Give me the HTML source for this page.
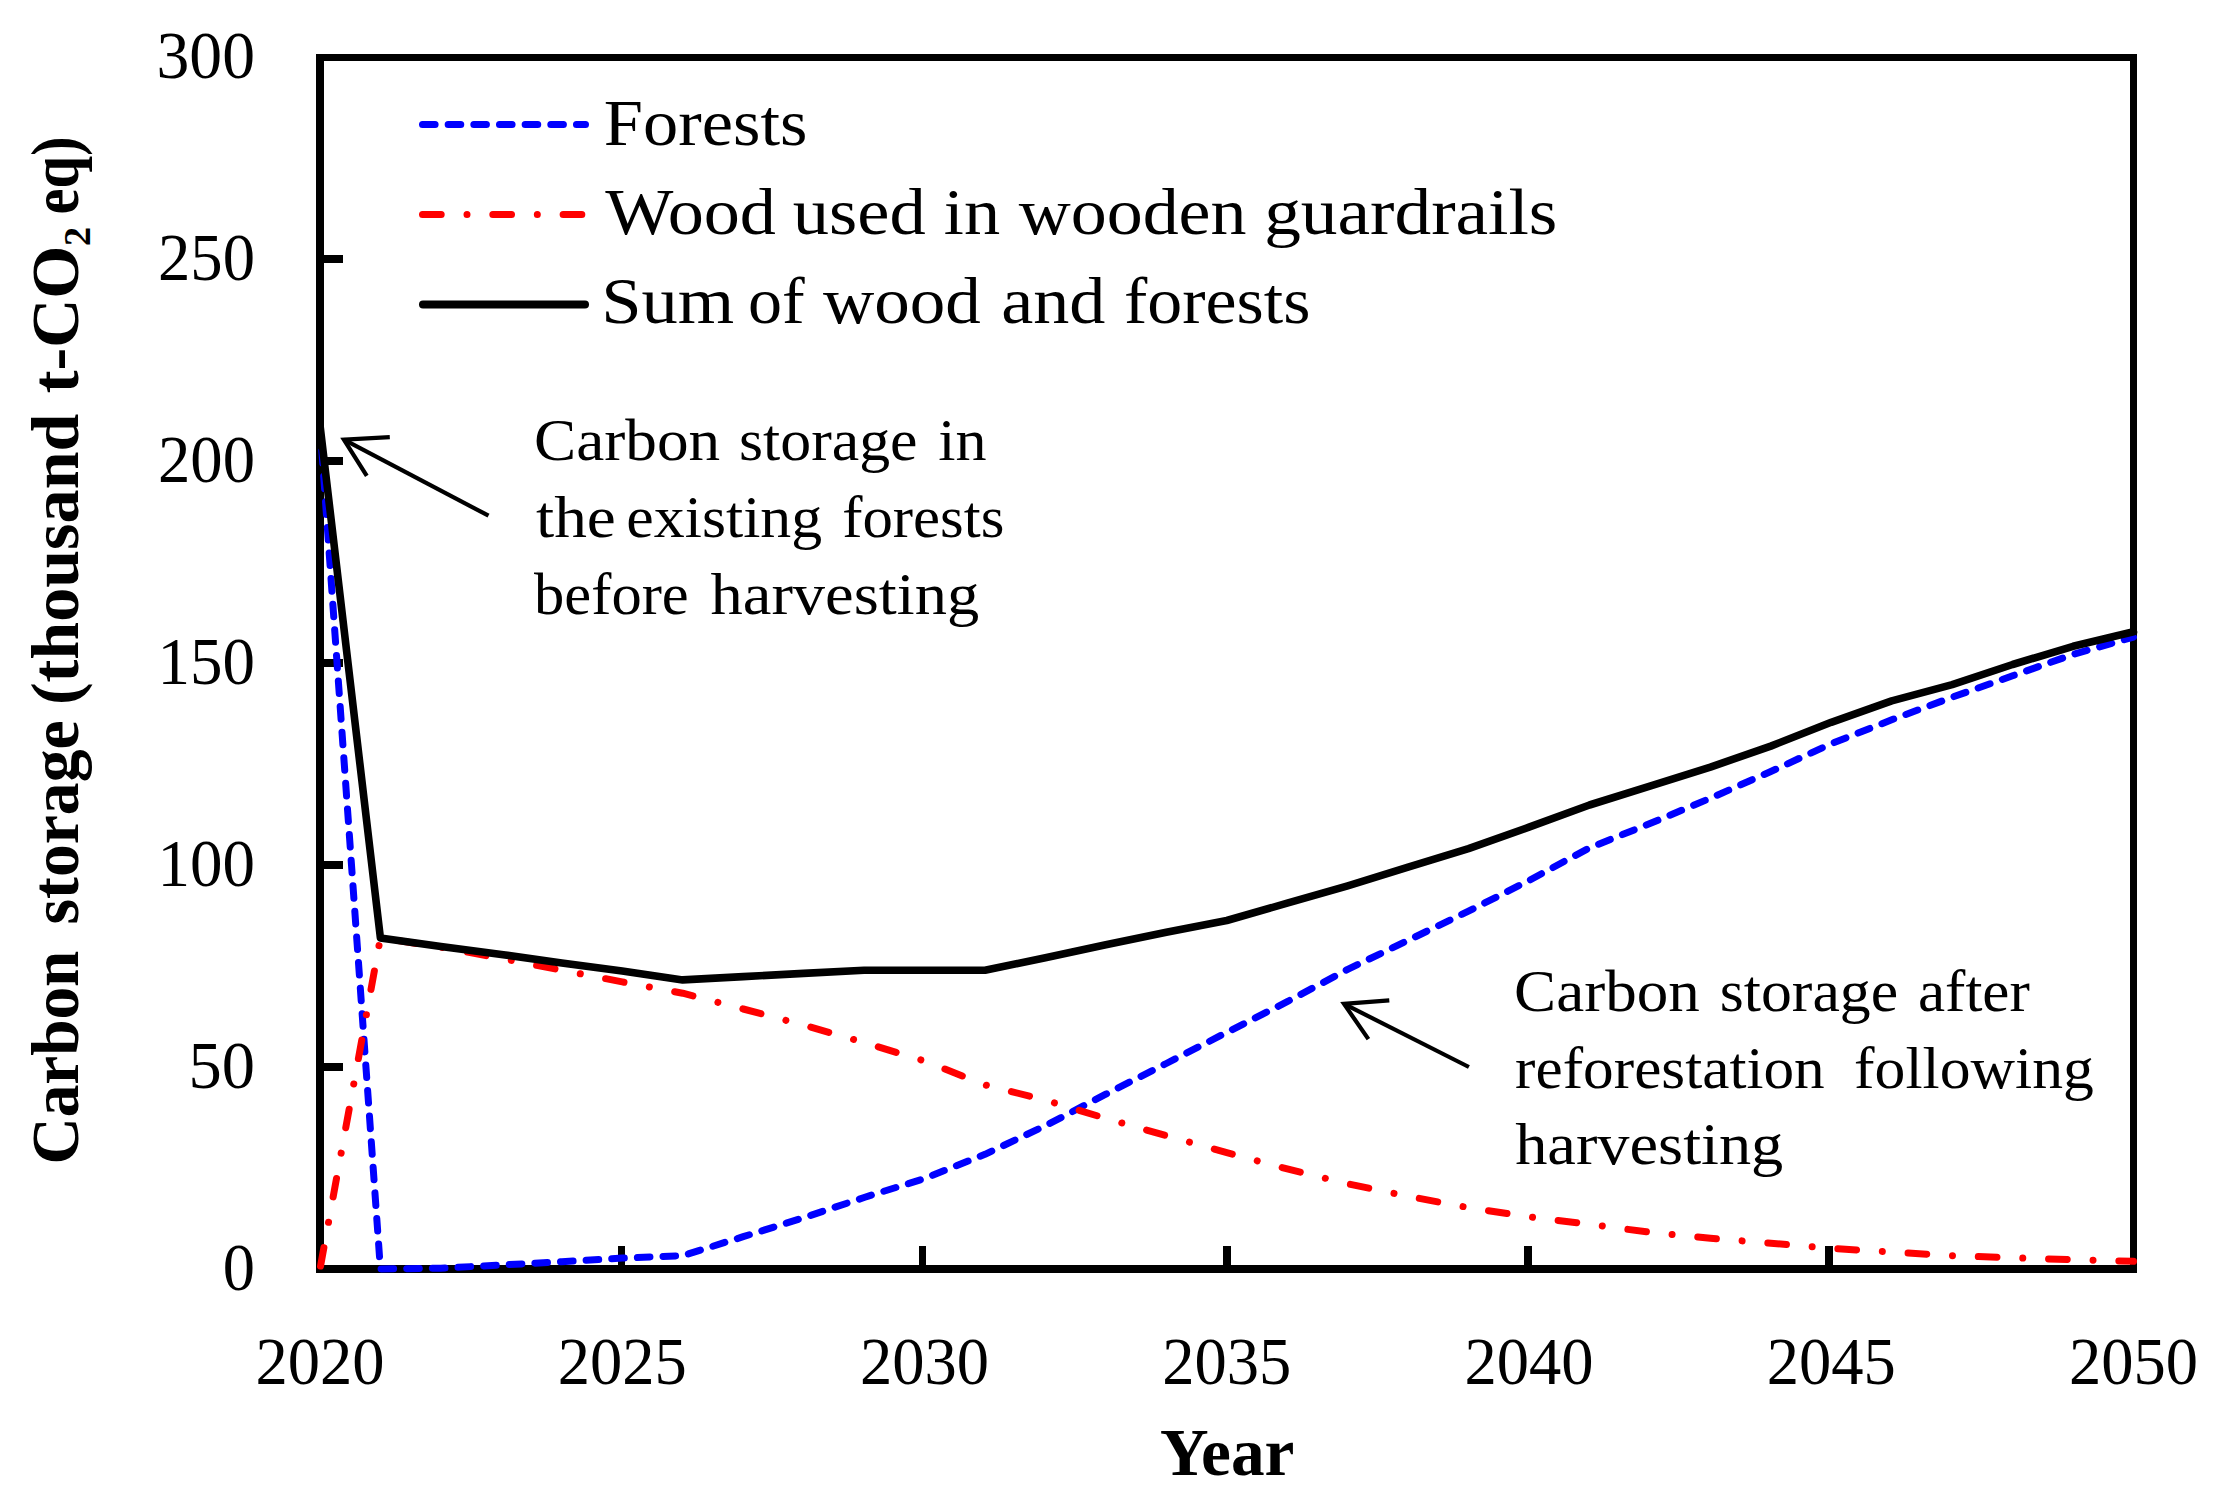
<!DOCTYPE html>
<html lang="en"><head><meta charset="utf-8"><title>Carbon storage</title>
<style>html,body{margin:0;padding:0;background:#fff}body{width:2219px;height:1504px;overflow:hidden}svg{display:block}text{font-family:"Liberation Serif",serif;fill:#000}</style>
</head><body>
<svg width="2219" height="1504" viewBox="0 0 2219 1504">
<rect width="2219" height="1504" fill="#fff"/>
<g fill="#000" shape-rendering="crispEdges">
<rect x="316" y="54" width="8" height="1219"/>
<rect x="316" y="54" width="1821" height="7"/>
<rect x="2130" y="54" width="7" height="1219"/>
<rect x="316" y="1265" width="1821" height="8"/>
<rect x="320" y="1063" width="23" height="8"/>
<rect x="320" y="861" width="23" height="8"/>
<rect x="320" y="659" width="23" height="8"/>
<rect x="320" y="457" width="23" height="8"/>
<rect x="320" y="255" width="23" height="8"/>
<rect x="618" y="1246" width="7" height="22"/>
<rect x="919" y="1246" width="7" height="22"/>
<rect x="1223" y="1246" width="8" height="22"/>
<rect x="1524" y="1246" width="8" height="22"/>
<rect x="1825" y="1246" width="8" height="22"/>
</g>
<g fill="none" stroke-linejoin="round" stroke-linecap="round">
<polyline points="321.1,440.0 380.4,1269.0 440.9,1268.2 501.4,1265.0 561.8,1261.7 622.2,1258.1 682.7,1255.7 743.2,1236.7 803.6,1217.7 864.1,1197.5 924.5,1178.5 985.0,1154.3 1045.4,1125.7 1105.8,1094.2 1166.3,1063.5 1226.8,1032.4 1287.2,1001.7 1347.7,969.4 1408.1,940.3 1468.5,911.2 1529.0,880.5 1589.5,847.8 1649.9,823.6 1710.4,798.2 1770.8,771.5 1831.2,743.7 1891.7,719.8 1952.2,697.2 2012.6,675.8 2073.1,654.4 2133.5,637.1" stroke="#0000ff" stroke-width="7" stroke-dasharray="12.6 13.06" stroke-dashoffset="15"/>
<polyline points="320.0,1269.0 380.4,937.9 440.9,947.2 501.4,958.5 561.8,970.2 622.2,981.9 682.7,993.2 743.2,1009.0 803.6,1025.1 864.1,1042.5 924.5,1061.0 985.0,1084.9 1045.4,1100.2 1105.8,1118.4 1166.3,1135.7 1226.8,1152.7 1287.2,1168.9 1347.7,1183.8 1408.1,1196.3 1468.5,1207.6 1529.0,1216.9 1589.5,1224.2 1649.9,1232.3 1710.4,1238.3 1770.8,1243.2 1831.2,1248.4 1891.7,1252.0 1952.2,1255.7 2012.6,1257.7 2073.1,1259.7 2133.5,1261.3" stroke="#ff0000" stroke-width="7" stroke-dasharray="18.7 25.8 0.01 25.8" stroke-dashoffset="-3"/>
<polyline points="320.0,425.1 380.4,937.9 440.9,946.4 501.4,954.4 561.8,962.9 622.2,971.0 682.7,979.9 743.2,976.6 803.6,973.4 864.1,970.2 924.5,970.2 985.0,970.2 1045.4,957.7 1105.8,944.7 1166.3,932.2 1226.8,920.5 1287.2,903.2 1347.7,885.8 1408.1,867.2 1468.5,848.6 1529.0,827.2 1589.5,805.0 1649.9,786.1 1710.4,767.1 1770.8,746.1 1831.2,722.3 1891.7,700.9 1952.2,684.7 2012.6,664.5 2073.1,646.3 2133.5,631.8" stroke="#000" stroke-width="7.6"/>
<line x1="422.5" y1="124.5" x2="585.5" y2="124.5" stroke="#0000ff" stroke-width="7" stroke-dasharray="12.6 13.06"/>
<line x1="422.5" y1="214.5" x2="585.5" y2="214.5" stroke="#ff0000" stroke-width="7" stroke-dasharray="18.7 25.8 0.01 25.8"/>
<line x1="423" y1="304.5" x2="585" y2="304.5" stroke="#000" stroke-width="8"/>
</g>
<g fill="none" stroke="#000" stroke-width="4.2" stroke-linecap="butt" stroke-linejoin="miter" stroke-miterlimit="10"><line x1="343.9" y1="439.7" x2="488.5" y2="515.7"/><polyline points="389.8,437.2 343.9,439.7 366.8,475.8"/></g>
<g fill="none" stroke="#000" stroke-width="4.2" stroke-linecap="butt" stroke-linejoin="miter" stroke-miterlimit="10"><line x1="1344.0" y1="1003.9" x2="1468.9" y2="1067.0"/><polyline points="1389.3,1000.3 1344.0,1003.9 1368.4,1039.1"/></g>
<text y="145.2" font-size="66" font-weight="normal" xml:space="preserve"><tspan x="603.80" textLength="203.60" lengthAdjust="spacingAndGlyphs">Forests</tspan></text>
<text y="234.3" font-size="66" font-weight="normal" xml:space="preserve"><tspan x="605.30" textLength="170.60" lengthAdjust="spacingAndGlyphs">Wood</tspan> <tspan x="792.80" textLength="132.90" lengthAdjust="spacingAndGlyphs">used</tspan> <tspan x="943.77" textLength="56.33" lengthAdjust="spacingAndGlyphs">in</tspan> <tspan x="1018.80" textLength="227.70" lengthAdjust="spacingAndGlyphs">wooden</tspan> <tspan x="1264.21" textLength="293.18" lengthAdjust="spacingAndGlyphs">guardrails</tspan></text>
<text y="323.0" font-size="66" font-weight="normal" xml:space="preserve"><tspan x="601.17" textLength="133.02" lengthAdjust="spacingAndGlyphs">Sum</tspan> <tspan x="747.97" textLength="56.70" lengthAdjust="spacingAndGlyphs">of</tspan> <tspan x="822.90" textLength="157.90" lengthAdjust="spacingAndGlyphs">wood</tspan> <tspan x="1001.15" textLength="104.15" lengthAdjust="spacingAndGlyphs">and</tspan> <tspan x="1124.01" textLength="186.37" lengthAdjust="spacingAndGlyphs">forests</tspan></text>
<text y="460.1" font-size="59.5" font-weight="normal" xml:space="preserve"><tspan x="534.02" textLength="186.18" lengthAdjust="spacingAndGlyphs">Carbon</tspan> <tspan x="738.97" textLength="178.59" lengthAdjust="spacingAndGlyphs">storage</tspan> <tspan x="938.33" textLength="48.37" lengthAdjust="spacingAndGlyphs">in</tspan></text>
<text y="537.2" font-size="59.5" font-weight="normal" xml:space="preserve"><tspan x="536.00" textLength="79.84" lengthAdjust="spacingAndGlyphs">the</tspan> <tspan x="626.37" textLength="195.80" lengthAdjust="spacingAndGlyphs">existing</tspan> <tspan x="842.15" textLength="162.26" lengthAdjust="spacingAndGlyphs">forests</tspan></text>
<text y="613.9" font-size="59.5" font-weight="normal" xml:space="preserve"><tspan x="534.10" textLength="154.63" lengthAdjust="spacingAndGlyphs">before</tspan> <tspan x="710.50" textLength="268.71" lengthAdjust="spacingAndGlyphs">harvesting</tspan></text>
<text y="1010.7" font-size="59.5" font-weight="normal" xml:space="preserve"><tspan x="1514.13" textLength="185.67" lengthAdjust="spacingAndGlyphs">Carbon</tspan> <tspan x="1719.77" textLength="178.39" lengthAdjust="spacingAndGlyphs">storage</tspan> <tspan x="1917.99" textLength="111.81" lengthAdjust="spacingAndGlyphs">after</tspan></text>
<text y="1087.7" font-size="59.5" font-weight="normal" xml:space="preserve"><tspan x="1515.14" textLength="309.56" lengthAdjust="spacingAndGlyphs">reforestation</tspan> <tspan x="1854.04" textLength="239.83" lengthAdjust="spacingAndGlyphs">following</tspan></text>
<text y="1164.4" font-size="59.5" font-weight="normal" xml:space="preserve"><tspan x="1515.20" textLength="268.11" lengthAdjust="spacingAndGlyphs">harvesting</tspan></text>
<text y="1384.3" font-size="67.5" font-weight="normal" xml:space="preserve"><tspan x="255.48" textLength="129.03" lengthAdjust="spacingAndGlyphs">2020</tspan></text>
<text y="1384.3" font-size="67.5" font-weight="normal" xml:space="preserve"><tspan x="557.73" textLength="129.03" lengthAdjust="spacingAndGlyphs">2025</tspan></text>
<text y="1384.3" font-size="67.5" font-weight="normal" xml:space="preserve"><tspan x="859.98" textLength="129.03" lengthAdjust="spacingAndGlyphs">2030</tspan></text>
<text y="1384.3" font-size="67.5" font-weight="normal" xml:space="preserve"><tspan x="1162.23" textLength="129.03" lengthAdjust="spacingAndGlyphs">2035</tspan></text>
<text y="1384.3" font-size="67.5" font-weight="normal" xml:space="preserve"><tspan x="1464.48" textLength="129.03" lengthAdjust="spacingAndGlyphs">2040</tspan></text>
<text y="1384.3" font-size="67.5" font-weight="normal" xml:space="preserve"><tspan x="1766.73" textLength="129.03" lengthAdjust="spacingAndGlyphs">2045</tspan></text>
<text y="1384.3" font-size="67.5" font-weight="normal" xml:space="preserve"><tspan x="2068.98" textLength="129.03" lengthAdjust="spacingAndGlyphs">2050</tspan></text>
<text y="78.4" font-size="67.5" font-weight="normal" xml:space="preserve"><tspan x="156.52" textLength="98.53" lengthAdjust="spacingAndGlyphs">300</tspan></text>
<text y="280.3" font-size="67.5" font-weight="normal" xml:space="preserve"><tspan x="157.98" textLength="97.04" lengthAdjust="spacingAndGlyphs">250</tspan></text>
<text y="482.2" font-size="67.5" font-weight="normal" xml:space="preserve"><tspan x="157.98" textLength="97.04" lengthAdjust="spacingAndGlyphs">200</tspan></text>
<text y="684.1" font-size="67.5" font-weight="normal" xml:space="preserve"><tspan x="157.52" textLength="97.51" lengthAdjust="spacingAndGlyphs">150</tspan></text>
<text y="886.0" font-size="67.5" font-weight="normal" xml:space="preserve"><tspan x="157.52" textLength="97.51" lengthAdjust="spacingAndGlyphs">100</tspan></text>
<text y="1087.9" font-size="67.5" font-weight="normal" xml:space="preserve"><tspan x="188.58" textLength="66.49" lengthAdjust="spacingAndGlyphs">50</tspan></text>
<text y="1289.8" font-size="67.5" font-weight="normal" xml:space="preserve"><tspan x="222.79" textLength="32.23" lengthAdjust="spacingAndGlyphs">0</tspan></text>
<text y="1475.0" font-size="67" font-weight="bold" xml:space="preserve"><tspan x="1159.95" textLength="134.48" lengthAdjust="spacingAndGlyphs">Year</tspan></text>
<text transform="translate(78.0,0) rotate(-90)" y="0" font-size="67" font-weight="bold" xml:space="preserve"><tspan x="-1164.46" textLength="213.86" lengthAdjust="spacingAndGlyphs">Carbon</tspan> <tspan x="-924.42" textLength="203.97" lengthAdjust="spacingAndGlyphs">storage</tspan> <tspan x="-705.13" textLength="291.56" lengthAdjust="spacingAndGlyphs">(thousand</tspan> <tspan x="-393.26" textLength="147.63" lengthAdjust="spacingAndGlyphs">t-CO</tspan><tspan x="-246.22" dy="11.5" font-size="37" textLength="19.54" lengthAdjust="spacingAndGlyphs">2</tspan><tspan x="-214.43" dy="-11.5" textLength="77.94" lengthAdjust="spacingAndGlyphs">eq)</tspan></text>
</svg></body></html>
